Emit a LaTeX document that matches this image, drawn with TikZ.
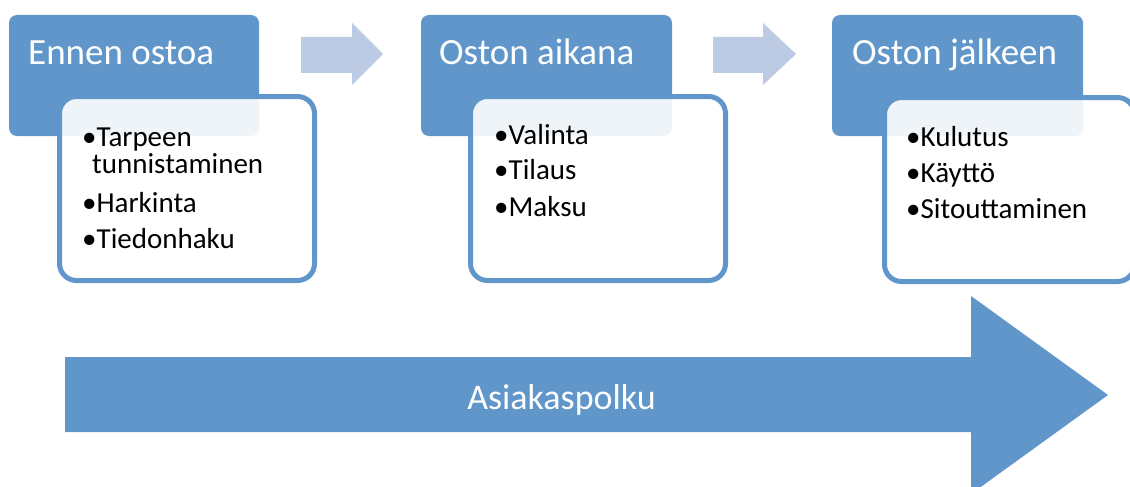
\documentclass[tikz,border=0pt]{standalone}
\usepackage{fontspec}
\setmainfont{Carlito}
\definecolor{accent}{RGB}{96,150,201}
\definecolor{lightaccent}{RGB}{188,203,227}
\begin{document}
\begin{tikzpicture}[x=1pt,y=-1pt,
  darkbox/.style={rectangle,rounded corners=8pt,fill=accent,draw=none,inner sep=0pt},
  whitebox/.style={rectangle,rounded corners=17pt,fill=white,fill opacity=0.9,draw=accent,draw opacity=1,line width=5pt,inner sep=0pt},
  titletext/.style={anchor=base west,inner sep=0pt,text=white,font=\fontsize{37}{40}\selectfont},
  itemtext/.style={anchor=base west,inner sep=0pt,text=black,font=\fontsize{29}{29}\selectfont},
  smallarrow/.style={fill=lightaccent,draw=none},
  bigarrow/.style={fill=accent,draw=none}]
\useasboundingbox (0,0) rectangle (1130,487);
\begin{scope}
\clip (0,0) rectangle (1130,487);
% dark boxes
\node[darkbox,minimum width=250pt,minimum height=121pt] (d1) at (134,75.5) {};
\node[darkbox,minimum width=251pt,minimum height=121pt] (d2) at (546.5,75.5) {};
\node[darkbox,minimum width=251pt,minimum height=121pt] (d3) at (957.5,75.5) {};
% white boxes
\node[whitebox,minimum width=255pt,minimum height=184pt] (w1) at (187,188.5) {};
\node[whitebox,minimum width=255pt,minimum height=184pt] (w2) at (598,188.5) {};
\node[whitebox,minimum width=250pt,minimum height=184pt] (w3) at (1009.5,189.5) {};
% titles
\node[titletext] (t1) at (28,65) {Ennen ostoa};
\node[titletext] (t2) at (439,65) {Oston aikana};
\node[titletext] (t3) at (852,65) {Oston jälkeen};
% items box 1
\node[itemtext] (a1) at (82,146) {•Tarpeen};
\node[itemtext] (a1b) at (92,173) {tunnistaminen};
\node[itemtext] (a2) at (82,212) {•Harkinta};
\node[itemtext] (a3) at (82,248) {•Tiedonhaku};
% items box 2
\node[itemtext] (b1) at (494,144) {•Valinta};
\node[itemtext] (b2) at (494,179) {•Tilaus};
\node[itemtext] (b3) at (494,216) {•Maksu};
% items box 3
\node[itemtext] (c1) at (906,146) {•Kulutus};
\node[itemtext] (c2) at (906,182) {•Käyttö};
\node[itemtext] (c3) at (906,218) {•Sitouttaminen};
% small arrows
\fill[smallarrow] (301,37) -- (352,37) -- (352,23) -- (383,54) -- (352,85) -- (352,73) -- (301,73) -- cycle;
\fill[smallarrow] (713,37) -- (763,37) -- (763,23) -- (796,54) -- (763,85) -- (763,73) -- (713,73) -- cycle;
% big arrow
\fill[bigarrow] (65,357) -- (971,357) -- (971,296) -- (1108,395) -- (971,494) -- (971,432) -- (65,432) -- cycle;
\node[anchor=base,inner sep=0pt,text=white,font=\fontsize{36}{40}\selectfont] (path) at (561.5,409) {Asiakaspolku};
\end{scope}
\end{tikzpicture}
\end{document}
